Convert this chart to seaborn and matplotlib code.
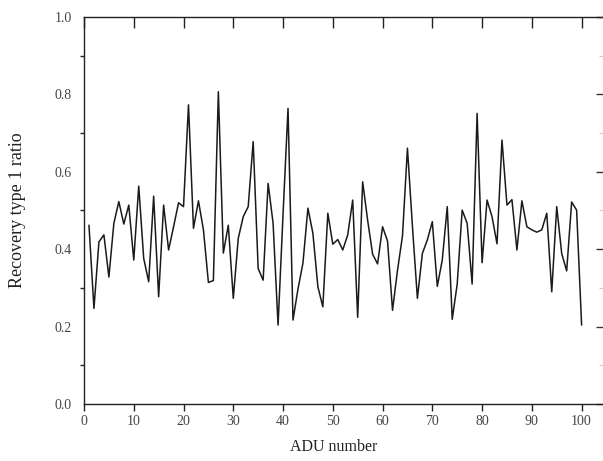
import numpy as np
import pandas as pd
import matplotlib
matplotlib.use("Agg")
import matplotlib.pyplot as plt
from matplotlib.ticker import MultipleLocator
import seaborn as sns

adu = list(range(1, 101))
ratio = [
    0.462, 0.247, 0.419, 0.437, 0.328, 0.467, 0.523, 0.465, 0.514, 0.372,
    0.563, 0.376, 0.316, 0.537, 0.277, 0.514, 0.398, 0.458, 0.520, 0.510,
    0.773, 0.454, 0.525, 0.450, 0.314, 0.319, 0.807, 0.390, 0.462, 0.273,
    0.428, 0.484, 0.510, 0.678, 0.350, 0.320, 0.570, 0.467, 0.204, 0.490,
    0.764, 0.217, 0.297, 0.364, 0.506, 0.441, 0.303, 0.251, 0.493, 0.413,
    0.425, 0.398, 0.437, 0.527, 0.224, 0.574, 0.475, 0.387, 0.362, 0.458,
    0.421, 0.242, 0.345, 0.434, 0.661, 0.460, 0.273, 0.389, 0.424, 0.471,
    0.304, 0.372, 0.510, 0.219, 0.310, 0.501, 0.467, 0.310, 0.751, 0.365,
    0.527, 0.484, 0.414, 0.682, 0.514, 0.528, 0.398, 0.525, 0.458, 0.450,
    0.444, 0.450, 0.493, 0.290, 0.510, 0.389, 0.344, 0.522, 0.501, 0.204,
]
x_ticks = list(range(0, 101, 10))
y_ticks = [0.0, 0.2, 0.4, 0.6, 0.8, 1.0]
x_label = "ADU number"
y_label = "Recovery type 1 ratio"

df = pd.DataFrame({"adu": adu, "ratio": ratio})

sns.set_style("white")
plt.rcParams['font.family'] = ['Liberation Serif', 'DejaVu Serif']

fig = plt.figure(figsize=(6.03, 4.61), dpi=100)
ax = fig.add_axes([84/603, 57/461, 519/603, 387/461])

sns.lineplot(data=df, x="adu", y="ratio", ax=ax, color="#1a1a1a", linewidth=1.1)

ax.set_xlim(0, 104.3)
ax.set_ylim(0, 1.0)
ax.set_xticks(x_ticks)
ax.set_yticks(y_ticks)
ax.set_yticklabels([f"{v:.1f}" for v in y_ticks])
ax.yaxis.set_minor_locator(MultipleLocator(0.1))

for s in ["left", "bottom", "top"]:
    ax.spines[s].set_visible(True)
    ax.spines[s].set_color("#222222")
    ax.spines[s].set_linewidth(1.0)
ax.spines["right"].set_visible(False)

ax.tick_params(axis="x", which="major", direction="out", length=5, width=1,
               color="#222222", labelsize=10, labelcolor="#444444", pad=3,
               top=False, bottom=True)
secx = ax.secondary_xaxis("top")
secx.set_xticks(x_ticks)
secx.tick_params(direction="in", length=8, width=1, color="#222222", labeltop=False)
secx.spines["top"].set_visible(False)

ax.tick_params(axis="y", which="major", direction="out", length=6, width=1,
               color="#222222", labelsize=10, labelcolor="#444444", pad=3)
ax.tick_params(axis="y", which="minor", direction="out", length=3, width=1,
               color="#222222", left=True)
secy = ax.secondary_yaxis("right")
secy.set_yticks(y_ticks)
secy.yaxis.set_minor_locator(MultipleLocator(0.1))
secy.tick_params(which="major", direction="in", length=5, width=1, color="#333333", labelright=False)
secy.tick_params(which="minor", direction="in", length=3, width=0.8, color="#cccccc", labelright=False)
secy.spines["right"].set_visible(False)

ax.set_xlabel(x_label, fontsize=11.5, color="#222222")
ax.set_ylabel(y_label, fontsize=13, color="#222222")
ax.xaxis.set_label_coords((334 - 84) / 519, -(447 - 404) / 387)
ax.yaxis.set_label_coords(-(84 - 18) / 519, 0.5)
ax.xaxis.label.set_va("center")
ax.yaxis.label.set_va("center")

fig.savefig("out.png", dpi=100)
